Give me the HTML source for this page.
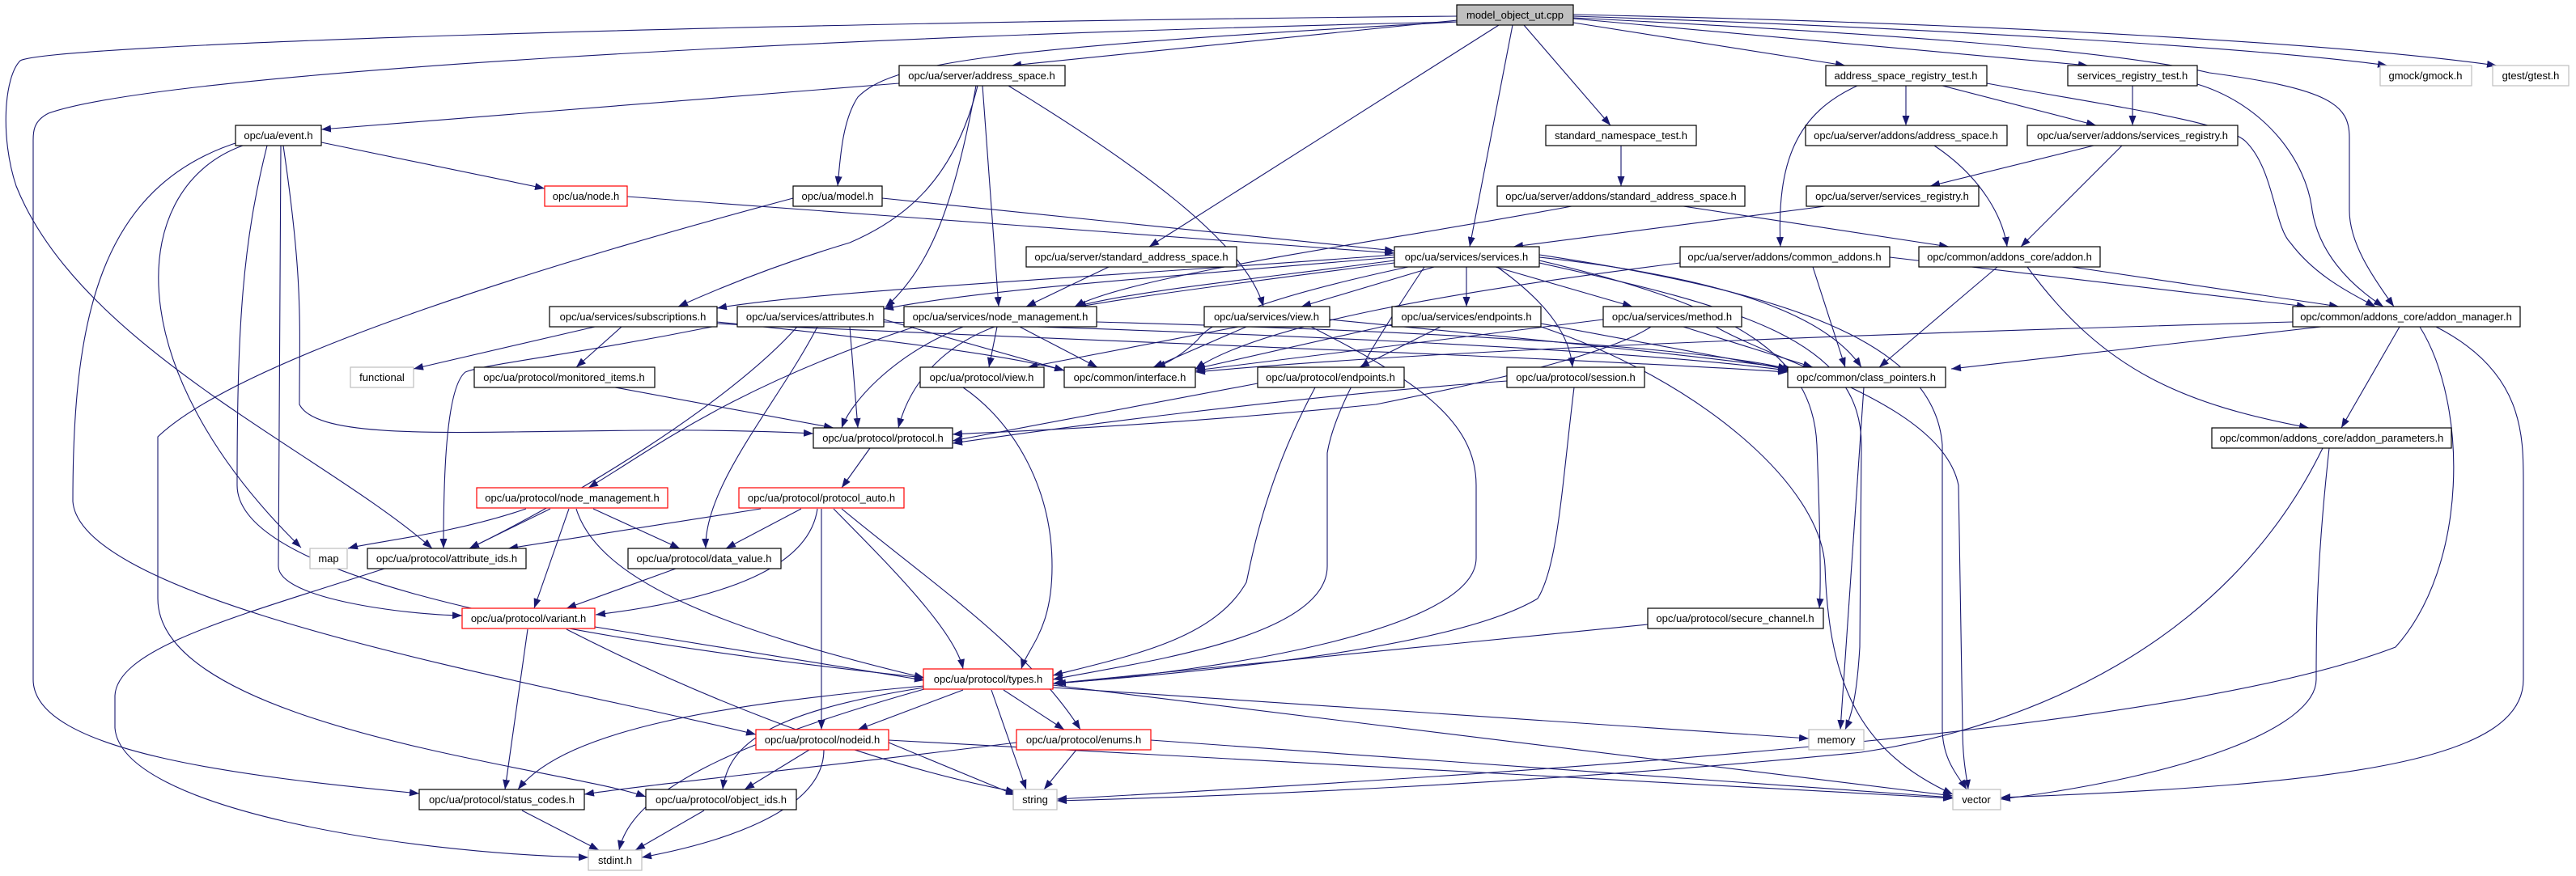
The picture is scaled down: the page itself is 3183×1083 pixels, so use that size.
<!DOCTYPE html>
<html><head><meta charset="utf-8"><style>
html,body{margin:0;padding:0;background:#fff;}
svg{display:block;}
text{font-family:"Liberation Sans",Arial,sans-serif;font-size:13px;fill:#000;text-anchor:middle;}
.e{fill:none;stroke:#191970;stroke-width:1.1;marker-end:url(#a);}
.n{fill:#fff;stroke:#000;stroke-width:1.2;}
.r{fill:#fff;stroke:#ff0000;stroke-width:1.2;}
.g{fill:#fff;stroke:#bfbfbf;stroke-width:1.2;}
</style></head><body>
<svg width="3183" height="1083" viewBox="0 0 3183 1083" xmlns="http://www.w3.org/2000/svg">
<defs><marker id="a" markerUnits="userSpaceOnUse" markerWidth="12" markerHeight="9" refX="12" refY="4.5" orient="auto"><path d="M0,0 L12,4.5 L0,9 z" fill="#191970"/></marker></defs>
<g>
<path class="e" d="M1801,25 L1250,81"/>
<path class="e" d="M1801,27 C1200,60 1100,80 1060,120 C1040,150 1038,200 1035,230"/>
<path class="e" d="M1852,31 L1420,305"/>
<path class="e" d="M1869,31 L1816,305"/>
<path class="e" d="M1883,31 L1990,155"/>
<path class="e" d="M1944,28 L2280,81"/>
<path class="e" d="M1944,23 L2580,81"/>
<path class="e" d="M1944,20 C2400,35 2800,60 2950,81"/>
<path class="e" d="M1944,18 C2500,30 2900,55 3085,81"/>
<path class="e" d="M1944,22 C2300,40 2600,60 2730,90 C2880,110 2903,130 2903,170 L2903,260 C2903,300 2930,340 2958,379"/>
<path class="e" d="M1801,20 C900,28 60,55 25,75 C5,95 0,170 20,230 C100,430 400,560 534,678"/>
<path class="e" d="M1801,27 C1000,45 200,90 60,140 C40,150 41,165 41,175 L41,840 C41,930 300,960 518,981"/>
<path class="e" d="M1111,103 L397,160"/>
<path class="e" d="M1208,106 C1180,220 1120,270 1050,300 C950,330 880,360 838,379"/>
<path class="e" d="M1206,106 C1180,250 1150,330 1094,380"/>
<path class="e" d="M1214,106 L1234,379"/>
<path class="e" d="M1246,106 C1400,200 1540,300 1561,379"/>
<path class="e" d="M397,176 L673,233"/>
<path class="e" d="M347,180 L344,700 C344,740 500,760 571,761"/>
<path class="e" d="M330,180 C300,300 293,400 293,600 C293,700 600,780 1142,838"/>
<path class="e" d="M297,175 C120,230 90,400 90,620 C100,750 700,850 934,908"/>
<path class="e" d="M300,180 C160,230 140,450 372,677"/>
<path class="e" d="M350,180 C375,350 370,400 370,500 C400,560 700,520 1005,536"/>
<path class="e" d="M775,243 L1723,313"/>
<path class="e" d="M1090,245 L1723,310"/>
<path class="e" d="M980,245 C700,320 300,440 195,540 L195,740 C195,900 700,950 798,985"/>
<path class="e" d="M2003,180 L2003,230"/>
<path class="e" d="M1942,255 C1700,300 1400,340 1328,379"/>
<path class="e" d="M2080,255 L2408,305"/>
<path class="e" d="M2355,106 L2355,155"/>
<path class="e" d="M2400,106 L2590,155"/>
<path class="e" d="M2295,106 C2220,140 2195,200 2200,305"/>
<path class="e" d="M2455,103 C2600,130 2750,150 2775,175 C2810,210 2810,280 2830,300 C2860,340 2900,360 2935,379"/>
<path class="e" d="M2635,106 L2635,155"/>
<path class="e" d="M2715,104 C2800,130 2850,200 2857,260 C2865,310 2900,350 2945,379"/>
<path class="e" d="M2390,180 C2450,220 2475,270 2480,305"/>
<path class="e" d="M2587,180 L2385,230"/>
<path class="e" d="M2622,180 L2497,305"/>
<path class="e" d="M2255,255 L1870,305"/>
<path class="e" d="M1370,330 L1268,379"/>
<path class="e" d="M1723,315 C1400,340 1000,360 886,381"/>
<path class="e" d="M1723,318 C1400,345 1200,360 1092,382"/>
<path class="e" d="M1723,322 C1550,345 1400,360 1330,379"/>
<path class="e" d="M1772,330 L1608,379"/>
<path class="e" d="M1812,330 L1812,379"/>
<path class="e" d="M1848,330 L2017,379"/>
<path class="e" d="M1740,330 C1600,360 1500,390 1480,420 C1460,440 1440,450 1428,454"/>
<path class="e" d="M1902,318 C2100,340 2250,380 2300,454"/>
<path class="e" d="M1723,325 C1450,360 1300,380 1240,400 C1150,430 1120,490 1110,529"/>
<path class="e" d="M1850,330 C1920,380 1940,420 1943,454"/>
<path class="e" d="M1902,322 C2150,380 2240,440 2245,550 C2250,680 2250,730 2248,752"/>
<path class="e" d="M1902,315 C2200,360 2390,420 2400,550 L2400,900 C2400,940 2420,960 2430,976"/>
<path class="e" d="M1902,325 C2150,380 2300,420 2300,550 L2298,800 C2295,850 2290,880 2280,902"/>
<path class="e" d="M1760,330 C1700,420 1650,500 1640,560 L1640,700 C1640,790 1400,820 1301,840"/>
<path class="e" d="M2335,318 L2850,379"/>
<path class="e" d="M2076,325 C1800,360 1560,400 1477,456"/>
<path class="e" d="M2240,330 L2280,454"/>
<path class="e" d="M2560,330 L2890,379"/>
<path class="e" d="M2468,330 L2322,454"/>
<path class="e" d="M2505,330 C2600,460 2700,500 2853,529"/>
<path class="e" d="M2868,404 L2411,456"/>
<path class="e" d="M2833,398 C2400,410 1800,430 1477,460"/>
<path class="e" d="M2965,404 L2893,529"/>
<path class="e" d="M2990,404 C3050,500 3050,700 2960,800 C2700,900 2000,950 1306,988"/>
<path class="e" d="M3010,404 C3120,460 3118,540 3118,600 L3118,840 C3118,940 2900,970 2472,986"/>
<path class="e" d="M735,404 L511,456"/>
<path class="e" d="M768,404 L712,454"/>
<path class="e" d="M886,398 C1100,420 1250,440 1315,458"/>
<path class="e" d="M886,400 C1300,420 1900,440 2209,460"/>
<path class="e" d="M880,404 C700,440 600,450 575,460 C550,480 548,600 548,678"/>
<path class="e" d="M1010,404 C960,500 870,600 872,678"/>
<path class="e" d="M1050,404 L1060,529"/>
<path class="e" d="M1092,395 L1315,458"/>
<path class="e" d="M1092,398 C1500,410 2000,430 2209,458"/>
<path class="e" d="M985,404 C900,500 700,620 580,678"/>
<path class="e" d="M1130,404 C900,480 800,560 727,603"/>
<path class="e" d="M1232,404 L1222,454"/>
<path class="e" d="M1260,404 L1356,454"/>
<path class="e" d="M1355,398 C1800,410 2100,430 2209,456"/>
<path class="e" d="M1190,404 C1100,440 1050,500 1040,529"/>
<path class="e" d="M1530,404 L1270,454"/>
<path class="e" d="M1540,404 L1425,454"/>
<path class="e" d="M1643,395 C1900,420 2100,440 2215,456"/>
<path class="e" d="M1620,404 C1750,470 1824,520 1824,600 L1824,690 C1824,780 1500,830 1305,845"/>
<path class="e" d="M1780,404 L1680,454"/>
<path class="e" d="M1725,400 L1477,456"/>
<path class="e" d="M1904,400 L2215,458"/>
<path class="e" d="M1904,404 C2100,470 2250,600 2255,700 C2260,850 2300,930 2413,982"/>
<path class="e" d="M1981,395 L1477,458"/>
<path class="e" d="M2080,404 L2240,454"/>
<path class="e" d="M2040,404 C2000,430 1900,460 1700,500 C1400,530 1200,535 1177,537"/>
<path class="e" d="M2120,404 C2200,450 2400,500 2420,600 L2425,900 C2425,940 2430,960 2432,976"/>
<path class="e" d="M760,479 L1030,529"/>
<path class="e" d="M1190,479 C1250,520 1300,600 1300,700 C1300,780 1270,800 1262,827"/>
<path class="e" d="M1554,474 L1177,545"/>
<path class="e" d="M1625,479 C1560,600 1545,700 1540,720 C1500,790 1400,810 1301,835"/>
<path class="e" d="M1862,471 C1600,490 1300,530 1177,548"/>
<path class="e" d="M1945,479 C1930,600 1925,700 1900,740 C1800,800 1500,830 1301,845"/>
<path class="e" d="M2303,479 L2274,902"/>
<path class="e" d="M1075,554 L1040,603"/>
<path class="e" d="M2870,554 C2750,800 2500,900 2300,930 C1900,970 1500,985 1306,990"/>
<path class="e" d="M2878,554 C2862,700 2862,780 2862,840 C2862,900 2700,960 2472,988"/>
<path class="e" d="M650,629 C560,660 460,670 430,678"/>
<path class="e" d="M680,629 L580,678"/>
<path class="e" d="M733,629 L840,678"/>
<path class="e" d="M703,629 L660,752"/>
<path class="e" d="M712,629 C740,720 900,780 1142,838"/>
<path class="e" d="M940,629 L628,678"/>
<path class="e" d="M990,629 L897,678"/>
<path class="e" d="M1010,629 C1000,700 900,740 736,760"/>
<path class="e" d="M1030,629 C1100,700 1180,780 1190,827"/>
<path class="e" d="M1015,629 L1015,902"/>
<path class="e" d="M1040,629 C1150,720 1270,800 1335,902"/>
<path class="e" d="M475,703 C300,760 145,800 142,860 L142,900 C150,1000 500,1055 727,1060"/>
<path class="e" d="M835,703 L700,752"/>
<path class="e" d="M735,775 L1142,841"/>
<path class="e" d="M652,778 L624,976"/>
<path class="e" d="M700,778 C900,880 1100,950 1255,979"/>
<path class="e" d="M2036,772 L1301,845"/>
<path class="e" d="M1142,848 C900,870 700,900 640,976"/>
<path class="e" d="M1142,850 C950,880 900,920 893,976"/>
<path class="e" d="M1190,853 L1060,902"/>
<path class="e" d="M1240,853 L1315,902"/>
<path class="e" d="M1225,853 L1268,976"/>
<path class="e" d="M1301,850 L2235,913"/>
<path class="e" d="M1301,847 L2413,984"/>
<path class="e" d="M1142,852 C900,920 780,980 765,1051"/>
<path class="e" d="M1256,918 C1000,950 800,970 722,982"/>
<path class="e" d="M1000,927 L920,976"/>
<path class="e" d="M1098,918 L1255,983"/>
<path class="e" d="M1018,927 C1018,1000 900,1040 793,1060"/>
<path class="e" d="M1098,915 L2413,987"/>
<path class="e" d="M1330,927 L1290,976"/>
<path class="e" d="M1422,915 L2413,986"/>
<path class="e" d="M645,1002 L740,1051"/>
<path class="e" d="M870,1002 L785,1051"/>
</g>
<g>
<rect x="1800" y="6" width="144" height="25" fill="#bfbfbf" stroke="#000" stroke-width="1.2"/><text x="1872" y="23">model_object_ut.cpp</text>
<rect class="n" x="1111" y="81" width="205" height="25"/><text x="1213" y="98">opc/ua/server/address_space.h</text>
<rect class="n" x="2256" y="81" width="199" height="25"/><text x="2355" y="98">address_space_registry_test.h</text>
<rect class="n" x="2555" y="81" width="160" height="25"/><text x="2635" y="98">services_registry_test.h</text>
<rect class="g" x="2941" y="81" width="113" height="25"/><text x="2997" y="98">gmock/gmock.h</text>
<rect class="g" x="3080" y="81" width="94" height="25"/><text x="3127" y="98">gtest/gtest.h</text>
<rect class="n" x="291" y="155" width="106" height="25"/><text x="344" y="172">opc/ua/event.h</text>
<rect class="n" x="1910" y="155" width="186" height="25"/><text x="2003" y="172">standard_namespace_test.h</text>
<rect class="n" x="2231" y="155" width="249" height="25"/><text x="2355" y="172">opc/ua/server/addons/address_space.h</text>
<rect class="n" x="2505" y="155" width="260" height="25"/><text x="2635" y="172">opc/ua/server/addons/services_registry.h</text>
<rect class="r" x="673" y="230" width="102" height="25"/><text x="724" y="247">opc/ua/node.h</text>
<rect class="n" x="980" y="230" width="110" height="25"/><text x="1035" y="247">opc/ua/model.h</text>
<rect class="n" x="1850" y="230" width="306" height="25"/><text x="2003" y="247">opc/ua/server/addons/standard_address_space.h</text>
<rect class="n" x="2232" y="230" width="213" height="25"/><text x="2338" y="247">opc/ua/server/services_registry.h</text>
<rect class="n" x="1268" y="305" width="260" height="25"/><text x="1398" y="322">opc/ua/server/standard_address_space.h</text>
<rect class="n" x="1723" y="305" width="179" height="25"/><text x="1812" y="322">opc/ua/services/services.h</text>
<rect class="n" x="2076" y="305" width="259" height="25"/><text x="2205" y="322">opc/ua/server/addons/common_addons.h</text>
<rect class="n" x="2371" y="305" width="224" height="25"/><text x="2483" y="322">opc/common/addons_core/addon.h</text>
<rect class="n" x="679" y="379" width="207" height="25"/><text x="782" y="396">opc/ua/services/subscriptions.h</text>
<rect class="n" x="911" y="379" width="181" height="25"/><text x="1001" y="396">opc/ua/services/attributes.h</text>
<rect class="n" x="1117" y="379" width="238" height="25"/><text x="1236" y="396">opc/ua/services/node_management.h</text>
<rect class="n" x="1488" y="379" width="155" height="25"/><text x="1565" y="396">opc/ua/services/view.h</text>
<rect class="n" x="1720" y="379" width="184" height="25"/><text x="1812" y="396">opc/ua/services/endpoints.h</text>
<rect class="n" x="1981" y="379" width="171" height="25"/><text x="2066" y="396">opc/ua/services/method.h</text>
<rect class="n" x="2833" y="379" width="281" height="25"/><text x="2973" y="396">opc/common/addons_core/addon_manager.h</text>
<rect class="g" x="433" y="454" width="78" height="25"/><text x="472" y="471">functional</text>
<rect class="n" x="586" y="454" width="223" height="25"/><text x="697" y="471">opc/ua/protocol/monitored_items.h</text>
<rect class="n" x="1137" y="454" width="153" height="25"/><text x="1213" y="471">opc/ua/protocol/view.h</text>
<rect class="n" x="1315" y="454" width="162" height="25"/><text x="1396" y="471">opc/common/interface.h</text>
<rect class="n" x="1554" y="454" width="181" height="25"/><text x="1644" y="471">opc/ua/protocol/endpoints.h</text>
<rect class="n" x="1862" y="454" width="170" height="25"/><text x="1947" y="471">opc/ua/protocol/session.h</text>
<rect class="n" x="2209" y="454" width="195" height="25"/><text x="2306" y="471">opc/common/class_pointers.h</text>
<rect class="n" x="1005" y="529" width="172" height="25"/><text x="1091" y="546">opc/ua/protocol/protocol.h</text>
<rect class="n" x="2733" y="529" width="296" height="25"/><text x="2881" y="546">opc/common/addons_core/addon_parameters.h</text>
<rect class="r" x="589" y="603" width="236" height="25"/><text x="707" y="620">opc/ua/protocol/node_management.h</text>
<rect class="r" x="913" y="603" width="204" height="25"/><text x="1015" y="620">opc/ua/protocol/protocol_auto.h</text>
<rect class="g" x="383" y="678" width="46" height="25"/><text x="406" y="695">map</text>
<rect class="n" x="454" y="678" width="196" height="25"/><text x="552" y="695">opc/ua/protocol/attribute_ids.h</text>
<rect class="n" x="776" y="678" width="189" height="25"/><text x="870" y="695">opc/ua/protocol/data_value.h</text>
<rect class="r" x="571" y="752" width="164" height="25"/><text x="653" y="769">opc/ua/protocol/variant.h</text>
<rect class="n" x="2036" y="752" width="217" height="25"/><text x="2144" y="769">opc/ua/protocol/secure_channel.h</text>
<rect class="r" x="1141" y="827" width="160" height="25"/><text x="1221" y="844">opc/ua/protocol/types.h</text>
<rect class="r" x="934" y="902" width="164" height="25"/><text x="1016" y="919">opc/ua/protocol/nodeid.h</text>
<rect class="r" x="1256" y="902" width="166" height="25"/><text x="1339" y="919">opc/ua/protocol/enums.h</text>
<rect class="g" x="2235" y="902" width="68" height="25"/><text x="2269" y="919">memory</text>
<rect class="n" x="518" y="976" width="204" height="25"/><text x="620" y="993">opc/ua/protocol/status_codes.h</text>
<rect class="n" x="798" y="976" width="186" height="25"/><text x="891" y="993">opc/ua/protocol/object_ids.h</text>
<rect class="g" x="1252" y="976" width="54" height="25"/><text x="1279" y="993">string</text>
<rect class="g" x="2413" y="976" width="59" height="25"/><text x="2442" y="993">vector</text>
<rect class="g" x="727" y="1051" width="66" height="25"/><text x="760" y="1068">stdint.h</text>
</g>
</svg>
</body></html>
